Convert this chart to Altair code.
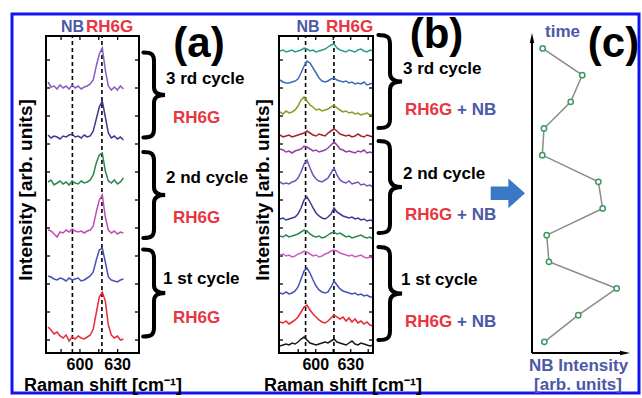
import altair as alt
import pandas as pd

FONT = "Liberation Sans"
BLUE_TXT = "#4c58a8"
RED_TXT = "#e8353f"

# ---------------- panel (a): Raman shift grid, offsets, spectra ----------------
A_SHIFT = [574.6, 577.0, 579.4, 581.8, 584.2, 586.6, 589.0, 591.4, 593.8, 596.2,
           598.6, 601.0, 603.4, 605.8, 608.2, 610.6, 613.0, 615.4, 617.8, 620.2,
           622.6, 625.0, 627.4, 629.8, 632.2, 634.6]
A_OFFSETS = [265, 216, 170, 121, 73, 14]
A_COLORS = ["#8a5cc4", "#3d3a8f", "#2a8a4e", "#c24db6", "#4a52b8", "#e82c3a"]
a_1 = [6, 1, 2, -1, 3, 0, 2, -1, 3, 0, 2, -1, 1, 2, 4, 8, 22, 34, 40, 18, 2, -2, 1, -2, 2, -1]
a_2 = [2, -1, 1, 0, -2, 1, 0, 2, 3, 0, 1, -1, 2, 0, 1, 6, 18, 30, 36, 20, 4, -1, 1, -2, 0, -3]
a_3 = [1, 3, -2, 0, 2, -1, 1, -2, 2, 0, -1, 2, 0, 1, 3, 8, 20, 28, 30, 12, 2, 0, 3, -1, 1, 5]
a_4 = [2, 1, -2, -5, 0, -1, 2, 0, 3, 1, 0, 1, -1, 1, 2, 6, 20, 32, 37, 15, 2, -1, 1, -2, 0, -1]
a_5 = [4, 3, 1, 0, 2, 1, -1, 2, 0, 1, 2, -1, 0, 2, 4, 8, 20, 30, 32, 18, 3, 0, -1, -2, 0, 1]
a_6 = [12, 9, 5, 7, 3, 1, 4, -2, 2, 0, 3, 1, 0, 2, 4, 10, 26, 42, 47, 38, 14, 4, 1, 3, -1, 0]
A_LINES = [594.0, 617.5]          # NB, RH6G
A_XTICKS = [585, 600, 615, 630]

# ---------------- panel (b) ----------------
B_SHIFT = [569.4, 572.0, 574.5, 577.1, 579.7, 582.3, 584.8, 587.4, 590.0, 592.5,
           595.1, 597.7, 600.3, 602.8, 605.4, 608.0, 610.5, 613.1, 615.7, 618.2,
           620.8, 623.4, 626.0, 628.5, 631.1, 633.7, 636.2, 638.8, 641.4, 643.9,
           646.5, 649.1]
B_OFFSETS = [302, 270, 239, 217, 201, 169, 133, 116, 97, 58, 30, 8]
B_COLORS = ["#2a9e8e", "#3b6dbf", "#8d9a2b", "#a4242c", "#9140a8", "#7552b5",
            "#3c3a93", "#2a8c4c", "#cf5cc3", "#4551b6", "#e8262f", "#1a1a1a"]
b_1 = [0, 1, -1, 0, 1, -1, 0, 1, 3, 2, 0, 1, -1, 0, 1, 2, 4, 6, 7, 3, 1, 0, -1, 1, 0, -1, 1, 2, 0, -1, 1, 0]
b_2 = [3, 1, 0, 0, 1, 2, 4, 10, 17, 22, 20, 15, 10, 5, 2, 1, 2, 4, 5, 3, 2, 1, 2, 0, 1, -1, 0, -1, 1, -2, -1, 0]
b_3 = [2, 0, 3, 1, 2, 4, 8, 14, 17, 13, 9, 7, 4, 5, 3, 4, 5, 7, 9, 6, 4, 2, 3, 1, 2, 0, 1, -1, 0, 1, -1, 0]
b_4 = [1, -1, 0, 1, -1, 0, 1, 2, 3, 5, 3, 1, 0, 2, 1, 0, 3, 5, 7, 5, 2, 1, 0, 1, -1, 0, 2, 0, -1, 1, 0, -1]
b_5 = [3, 2, 0, 1, -1, 1, 2, 3, 6, 5, 3, 1, 2, 0, 1, 2, 4, 7, 10, 7, 3, 2, 0, 1, 0, -1, 1, 0, 2, -1, 0, -1]
b_6 = [2, 0, 1, 0, 2, 3, 6, 12, 20, 24, 16, 9, 5, 3, 2, 4, 6, 11, 16, 9, 4, 2, 1, 3, 0, 1, 2, -1, 0, -2, -1, -3]
b_7 = [1, 2, 0, 1, 2, 3, 6, 12, 20, 23, 18, 12, 7, 4, 2, 1, 3, 6, 12, 8, 6, 4, 3, 2, 3, 1, 2, 0, 1, -1, 0, -1]
b_8 = [1, 0, 2, 0, 1, 2, 3, 5, 7, 6, 3, 1, 0, 1, -1, 0, 2, 4, 5, 3, 4, 2, 0, 1, -1, 0, 1, 2, 0, -1, 0, -2]
b_9 = [1, 2, 0, 1, -1, 0, 2, 3, 5, 4, 2, 0, 1, -1, 0, 2, 3, 5, 6, 5, 3, 2, 1, 0, 1, -1, 0, 1, -1, -2, -1, -2]
b_10 = [2, 1, 3, 1, 2, 4, 8, 16, 24, 27, 22, 15, 9, 5, 3, 2, 3, 8, 14, 10, 6, 4, 3, 2, 1, 2, 0, 1, -1, 0, -2, -2]
b_11 = [1, 0, 2, -1, 1, 3, 6, 11, 16, 18, 13, 9, 6, 3, 1, 0, 2, 5, 8, 6, 4, 6, 2, 5, 1, 4, 0, 2, -1, 1, -2, -3]
b_12 = [-1, 0, 1, 0, 2, 1, 3, 6, 8, 5, 2, 1, 0, 1, 2, 3, 2, 4, 6, 3, 2, 1, 0, 2, 4, 1, 0, 2, 1, 0, -1, 0]
B_LINES = [591.3, 615.6]
B_XTICKS = [585, 600, 615, 630, 645]

Y_TICKS = [13, 41, 69, 97, 125, 153, 181, 209, 237, 265, 293]
TICK_LABELS = [600, 630]

# ---------------- panel (c): NB intensity vs time ----------------
C_TIME = [1, 2, 3, 4, 5, 6, 7, 8, 9, 10, 11, 12]
C_NB = [12.6, 47.2, 86.4, 17.3, 15.0, 72.1, 67.7, 10.5, 12.2, 39.5, 51.3, 10.9]

# ---------------- scales (plot area is the blue-bordered box) ----------------
XA = alt.Scale(domain=[573, 647], range=[34, 127], nice=False, zero=False)
XB = alt.Scale(domain=[568.5, 649.1], range=[267, 361], nice=False, zero=False)
YS = alt.Scale(domain=[0, 317], range=[339, 22], nice=False, zero=False)
XC = alt.Scale(domain=[0, 100], range=[520, 618], nice=False, zero=False)
YC = alt.Scale(domain=[0.58, 12.58], range=[339, 19], nice=False, zero=False)


def spectra_df(shifts, offsets, series, colors, prefix):
    rows = []
    for i, (off, vals, col) in enumerate(zip(offsets, series, colors)):
        for s, v in zip(shifts, vals):
            rows.append({"shift": s, "inten": off + v, "spec": f"{prefix}{i}", "col": col})
    return pd.DataFrame(rows)


def panel(shifts, offsets, series, colors, prefix, xs, dom, lines, xticks, tick_len):
    layers = []
    df = spectra_df(shifts, offsets, series, colors, prefix)
    # inward y ticks (left and right)
    ty = pd.DataFrame({"t": Y_TICKS, "a": dom[0], "b": dom[0] + tick_len,
                       "c": dom[1] - tick_len, "d": dom[1]})
    for a, b in (("a", "b"), ("c", "d")):
        layers.append(alt.Chart(ty).mark_rule(color="black", strokeWidth=1.3).encode(
            x=alt.X(f"{a}:Q", scale=xs, axis=None), x2=f"{b}:Q",
            y=alt.Y("t:Q", scale=YS, axis=None)))
    tx = pd.DataFrame({"t": xticks, "a": 0, "b": 4, "c": 313, "d": 317})
    for a, b in (("a", "b"), ("c", "d")):
        layers.append(alt.Chart(tx).mark_rule(color="black", strokeWidth=1.3).encode(
            x=alt.X("t:Q", scale=xs, axis=None),
            y=alt.Y(f"{a}:Q", scale=YS, axis=None), y2=f"{b}:Q"))
    # dashed reference lines (NB, RH6G)
    dl = pd.DataFrame({"s": lines, "y0": 0, "y1": 317})
    layers.append(alt.Chart(dl).mark_rule(color="black", strokeWidth=1.6, strokeDash=[4, 3]).encode(
        x=alt.X("s:Q", scale=xs, axis=None),
        y=alt.Y("y0:Q", scale=YS, axis=None), y2="y1:Q"))
    # spectra
    layers.append(alt.Chart(df).mark_line(strokeWidth=1.5).encode(
        x=alt.X("shift:Q", scale=xs, axis=None),
        y=alt.Y("inten:Q", scale=YS, axis=None),
        color=alt.Color("col:N", scale=None),
        detail="spec:N"))
    # frame
    fr = pd.DataFrame({"x0": [dom[0]], "x1": [dom[1]], "y0": [0], "y1": [317]})
    layers.append(alt.Chart(fr).mark_rect(fillOpacity=0, stroke="black", strokeWidth=2).encode(
        x=alt.X("x0:Q", scale=xs, axis=None), x2="x1:Q",
        y=alt.Y("y0:Q", scale=YS, axis=None), y2="y1:Q"))
    # tick labels
    tl = pd.DataFrame({"t": TICK_LABELS, "lab": [str(v) for v in TICK_LABELS]})
    layers.append(alt.Chart(tl).mark_text(font=FONT, fontWeight="bold", fontSize=16,
                                          align="center", baseline="alphabetic", color="black").encode(
        x=alt.X("t:Q", scale=xs, axis=None), y=alt.value(356), text="lab:N"))
    return layers


def text_layer(labels, xs, ys, colors, size, align="left", baseline="alphabetic", angle=0):
    df = pd.DataFrame({"label": labels, "x": xs, "y": ys, "col": colors})
    mk = alt.Chart(df).mark_text(font=FONT, fontWeight="bold", fontSize=size, align=align,
                                 baseline=baseline, angle=angle)
    return mk.encode(text="label:N",
                     x=alt.X("x:Q", scale=None, axis=None),
                     y=alt.Y("y:Q", scale=None, axis=None),
                     color=alt.Color("col:N", scale=None))


layers = []
layers += panel(A_SHIFT, A_OFFSETS, [a_1, a_2, a_3, a_4, a_5, a_6], A_COLORS, "a",
                XA, [573, 647], A_LINES, A_XTICKS, 3.2)
layers += panel(B_SHIFT, B_OFFSETS, [b_1, b_2, b_3, b_4, b_5, b_6, b_7, b_8, b_9, b_10, b_11, b_12],
                B_COLORS, "b", XB, [568.5, 649.1], B_LINES, B_XTICKS, 3.4)

# ---------------- panel (c) ----------------
cdf = pd.DataFrame({"time": C_TIME, "nb": C_NB})
vax = pd.DataFrame({"x": [0], "y0": [0.58], "y1": [12.4]})
hax = pd.DataFrame({"x0": [0], "x1": [95], "y": [0.58]})
layers.append(alt.Chart(vax).mark_rule(color="black", strokeWidth=2).encode(
    x=alt.X("x:Q", scale=XC, axis=None), y=alt.Y("y0:Q", scale=YC, axis=None), y2="y1:Q"))
layers.append(alt.Chart(hax).mark_rule(color="black", strokeWidth=2).encode(
    x=alt.X("x0:Q", scale=XC, axis=None), x2="x1:Q", y=alt.Y("y:Q", scale=YC, axis=None)))
heads = pd.DataFrame({"x": [0, 94.9], "y": [12.39, 0.58],
                      "shp": ["M0,-1L-0.45,1L0.45,1Z", "M1,0L-1,-0.45L-1,0.45Z"]})
for shp in heads["shp"]:
    layers.append(alt.Chart(heads[heads["shp"] == shp]).mark_point(
        shape=shp, filled=True, color="black", size=100, opacity=1).encode(
        x=alt.X("x:Q", scale=XC, axis=None), y=alt.Y("y:Q", scale=YC, axis=None)))
layers.append(alt.Chart(cdf).mark_line(color="#8c8c8c", strokeWidth=1.5).encode(
    x=alt.X("nb:Q", scale=XC, axis=None), y=alt.Y("time:Q", scale=YC, axis=None), order="time:Q"))
layers.append(alt.Chart(cdf).mark_point(shape="circle", fill="white", stroke="#3a9a5e",
                                        strokeWidth=1.5, size=28, opacity=1).encode(
    x=alt.X("nb:Q", scale=XC, axis=None), y=alt.Y("time:Q", scale=YC, axis=None)))

# ---------------- braces and arrow ----------------
BRACE = ("M-0.25,-1 C-0.05,-1 0,-0.95 0,-0.8 L0,-0.18 C0,-0.06 0.08,0 0.26,0 "
         "C0.08,0 0,0.06 0,0.18 L0,0.8 C0,0.95 -0.05,1 -0.25,1")
BRACE_X = [142, 142, 142, 378, 378, 378]
BRACE_Y = [81, 181, 279, 67.5, 173, 279.5]
BRACE_S = [7225, 7396, 7569, 8649, 8464, 8649]
bdf = pd.DataFrame({"x": BRACE_X, "y": BRACE_Y, "s": BRACE_S})
layers.append(alt.Chart(bdf).mark_point(shape=BRACE, filled=False, color="black",
                                        strokeWidth=4, opacity=1, strokeCap="round").encode(
    x=alt.X("x:Q", scale=None, axis=None), y=alt.Y("y:Q", scale=None, axis=None),
    size=alt.Size("s:Q", scale=None)))
ARROW = "M-1,-0.39L0.03,-0.39L0.03,-0.87L1,0L0.03,0.87L0.03,0.39L-1,0.39Z"
adf = pd.DataFrame({"x": [495.85], "y": [179.3]})
layers.append(alt.Chart(adf).mark_point(shape=ARROW, filled=True, color="#3a78c5",
                                        size=1176, opacity=1).encode(
    x=alt.X("x:Q", scale=None, axis=None), y=alt.Y("y:Q", scale=None, axis=None)))

# ---------------- texts ----------------
CYCLE_LABELS = ["3 rd cycle", "2 nd cycle", "1 st cycle", "3 rd cycle", "2 nd cycle", "1 st cycle"]
layers.append(text_layer(CYCLE_LABELS, [154, 154, 151, 391, 391, 389],
                         [70, 169, 270, 60, 165, 271], ["black"] * 6, 17))
layers.append(text_layer(["RH6G"] * 6, [161, 161, 161, 393, 393, 393],
                         [108.5, 208.5, 308.5, 101, 206, 313], [RED_TXT] * 6, 17))
layers.append(text_layer(["+ NB"] * 3, [445, 445, 445], [101, 206, 313], [BLUE_TXT] * 3, 17))
layers.append(text_layer(["(a)", "(b)", "(c)"], [187, 424.5, 601.5], [43, 34, 43],
                         ["black"] * 3, 42, align="center"))
layers.append(text_layer(["NB", "NB"], [72, 307.5], [18, 18], [BLUE_TXT] * 2, 16, align="right"))
layers.append(text_layer(["RH6G", "RH6G"], [74, 314], [18, 18], [RED_TXT] * 2, 17))
layers.append(text_layer(["Intensity [arb. units]"] * 2, [13.5, 251], [176, 176], ["black"] * 2, 19,
                         align="center", baseline="middle", angle=270))
layers.append(text_layer(["Raman shift [cm\u207b\u00b9]"] * 2, [91, 331], [377, 377], ["black"] * 2, 18,
                         align="center"))
layers.append(text_layer(["time"], [533], [22.7], [BLUE_TXT], 17))
layers.append(text_layer(["NB Intensity", "[arb. units]"], [566.5, 566], [357, 376],
                         [BLUE_TXT] * 2, 17, align="center"))

chart = alt.layer(*layers).resolve_scale(x="independent", y="independent").properties(
    width=627, height=379,
    autosize=alt.AutoSizeParams(type="none"),
    padding={"left": 12, "top": 14, "right": 3, "bottom": 5},
).configure_view(stroke="#1414f0", strokeWidth=3)

chart.save("out.html", embed_options={"renderer": "svg", "actions": False})
